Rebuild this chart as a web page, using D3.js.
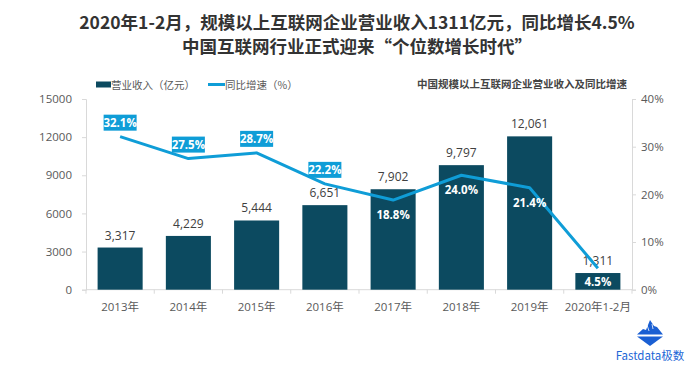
<!DOCTYPE html>
<html><head><meta charset="utf-8">
<script src="https://cdn.jsdelivr.net/npm/d3@7/dist/d3.min.js"></script>
<style>
body{margin:0;background:#fff;}
svg{display:block;}
</style></head>
<body><svg id="c" width="700" height="380"></svg>
<script>
const categories = ["2013年","2014年","2015年","2016年","2017年","2018年","2019年","2020年1-2月"];
const revenue = [3317, 4229, 5444, 6651, 7902, 9797, 12061, 1311];
const growth = [32.1, 27.5, 28.7, 22.2, 18.8, 24.0, 21.4, 4.5];
const growthLabelStyle = ["box","box","box","box","bar","bar","bar","bar"];
const leftTicks = [0, 3000, 6000, 9000, 12000, 15000];
const rightTicks = [0, 10, 20, 30, 40];
const titleLines = ["2020年1-2月，规模以上互联网企业营业收入1311亿元，同比增长4.5%", "中国互联网行业正式迎来“个位数增长时代”"];
const subtitle = "中国规模以上互联网企业营业收入及同比增速";
const legendNames = ["营业收入（亿元）", "同比增速（%）"];

const BAR = "#0c4a60", LINE = "#0f9dd7", AXIS = "#d9d9d9", TXT = "#595959";
const FONT = "'Open Sans','Noto Sans CJK SC',sans-serif";
const CJK = "'Noto Sans CJK SC','Open Sans',sans-serif";

const svg = d3.select("#c");
const L = 86, R = 632, T = 99, B = 289.7;

const x = d3.scaleBand().domain(categories).range([L, R]).paddingInner(0.34).paddingOuter(0.17);
const yL = d3.scaleLinear().domain([0, 15000]).range([B, T]);
const yR = d3.scaleLinear().domain([0, 40]).range([B, T]);
const cx = c => x(c) + x.bandwidth() / 2;

// Title
svg.selectAll("text.title").data(titleLines).join("text")
  .attr("x", 357).attr("y", (d, i) => 28.5 + i * 24.5)
  .attr("text-anchor", "middle").attr("font-family", CJK)
  .attr("font-weight", "bold").attr("font-size", 17.5).attr("fill", "#333")
  .text(d => d);

// Subtitle
svg.append("text").attr("x", 627).attr("y", 88).attr("text-anchor", "end")
  .attr("font-family", CJK).attr("font-weight", "bold").attr("font-size", 10.5)
  .attr("fill", "#444").text(subtitle);

// Legend
svg.append("rect").attr("x", 96).attr("y", 81.5).attr("width", 15).attr("height", 6).attr("fill", BAR);
svg.append("text").attr("x", 111).attr("y", 88.5).attr("font-family", CJK).attr("font-size", 10.5)
  .attr("fill", TXT).text(legendNames[0]);
svg.append("line").attr("x1", 208).attr("x2", 225).attr("y1", 84.5).attr("y2", 84.5)
  .attr("stroke", LINE).attr("stroke-width", 3);
svg.append("text").attr("x", 225).attr("y", 88.5).attr("font-family", CJK).attr("font-size", 10.5)
  .attr("fill", TXT).text(legendNames[1]);

// Axes
const ga = svg.append("g").attr("transform", `translate(${L},0)`)
  .call(d3.axisLeft(yL).tickValues(leftTicks).tickSize(4).tickPadding(10).tickFormat(d3.format("d")));
const gb = svg.append("g").attr("transform", `translate(${R},0)`)
  .call(d3.axisRight(yR).tickValues(rightTicks).tickSize(4).tickPadding(5).tickFormat(d => d + "%"));
[ga, gb].forEach(g => {
  g.selectAll("path,line").attr("stroke", AXIS);
  g.selectAll("text").attr("fill", TXT).attr("font-family", FONT).attr("font-size", 11.5);
});

svg.append("line").attr("x1", L).attr("x2", R).attr("y1", B).attr("y2", B).attr("stroke", AXIS);
const half = x.step() * x.paddingInner() / 2;
svg.selectAll("line.xt").data(categories).join("line").attr("class", "xt")
  .attr("x1", d => x(d) - half).attr("x2", d => x(d) - half)
  .attr("y1", B).attr("y2", B + 4).attr("stroke", AXIS);
svg.append("line").attr("x1", R).attr("x2", R).attr("y1", B).attr("y2", B + 4).attr("stroke", AXIS);
svg.selectAll("text.xl").data(categories).join("text").attr("class", "xl")
  .attr("x", d => cx(d)).attr("y", 311).attr("text-anchor", "middle")
  .attr("font-family", FONT).attr("font-size", 11.5).attr("fill", TXT).text(d => d);

// Bars
svg.selectAll("rect.bar").data(revenue).join("rect").attr("class", "bar")
  .attr("x", (d, i) => x(categories[i])).attr("width", x.bandwidth())
  .attr("y", d => yL(d)).attr("height", d => B - yL(d)).attr("fill", BAR);

svg.selectAll("text.bv").data(revenue).join("text").attr("class", "bv")
  .attr("x", (d, i) => cx(categories[i])).attr("y", d => yL(d) - 8)
  .attr("text-anchor", "middle").attr("font-family", FONT).attr("font-size", 12)
  .attr("fill", "#404040").text(d => d3.format(",")(d));

// Line
const line = d3.line().x((d, i) => cx(categories[i])).y(d => yR(d));
svg.append("path").datum(growth).attr("d", line).attr("fill", "none")
  .attr("stroke", LINE).attr("stroke-width", 3).attr("stroke-linejoin", "round");

// Growth labels
const gl = svg.selectAll("g.gl").data(growth).join("g").attr("class", "gl")
  .attr("transform", (d, i) => {
    const st = growthLabelStyle[i];
    let yy;
    if (st === "box") yy = yR(d) - 14;
    else if (i === growth.length - 1) yy = (yL(revenue[i]) + B) / 2;
    else yy = yR(d) + 15;
    return `translate(${cx(categories[i])},${yy})`;
  });
gl.filter((d, i) => growthLabelStyle[i] === "box").append("rect")
  .attr("x", -16.5).attr("y", -8).attr("width", 33).attr("height", 16).attr("fill", LINE);
gl.append("text").attr("text-anchor", "middle").attr("dy", "0.36em")
  .attr("font-family", FONT).attr("font-weight", "bold").attr("font-size", 11.5)
  .attr("fill", "#fff").text(d => d.toFixed(1) + "%");

// Logo
const logo = svg.append("g").attr("fill", "#1a5fd3");
logo.append("path").attr("d", "M637,334.5 L643,329 L646,330 L650,320 L654,326 L657,327 L663,334.5 Z");
logo.append("path").attr("d", "M637,336.5 L663,336.5 L650,346 Z");
logo.append("path").attr("d", "M647,325 L649,331 M652,324 L653,329").attr("stroke", "#fff").attr("stroke-width", 0.8);
svg.append("text").attr("x", 650).attr("y", 360).attr("text-anchor", "middle")
  .attr("font-family", CJK).attr("font-size", 11.5).attr("fill", "#2266d6").text("Fastdata极数");
</script></body></html>
